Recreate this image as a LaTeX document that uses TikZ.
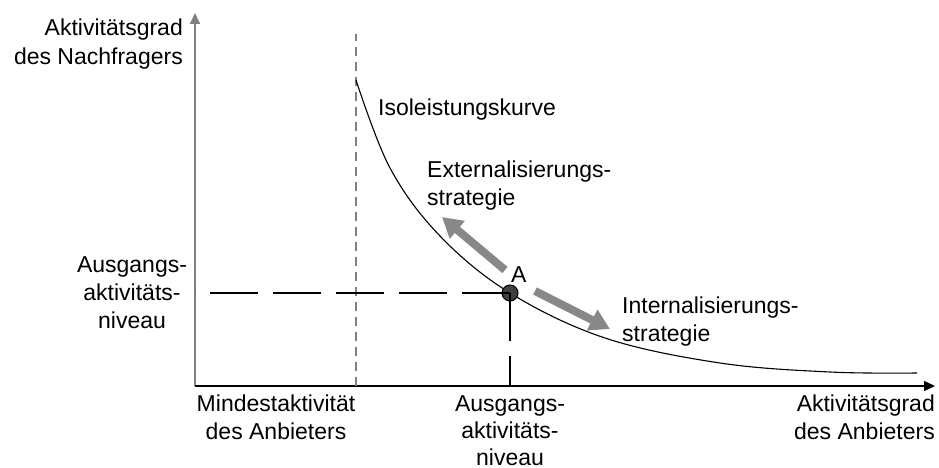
\documentclass[tikz,border=0pt]{standalone}
\usepackage{fontspec}
\setmainfont{Liberation Sans}
\usetikzlibrary{arrows.meta}
\definecolor{axisgray}{RGB}{128,128,128}
\definecolor{stratgray}{RGB}{136,136,136}
\definecolor{pointfill}{RGB}{64,64,64}
\begin{document}
\begin{tikzpicture}[x=1pt,y=-1pt,
  lbl/.style={font=\fontsize{23}{28}\selectfont, inner sep=0pt, anchor=base},
  yaxis/.style={line width=1.8pt, draw=axisgray, -{Triangle[length=11pt,width=10pt]}},
  xaxis/.style={line width=1.3pt, draw=black, -{Triangle[length=11pt,width=10pt]}},
  minline/.style={line width=1.6pt, draw=axisgray, dash pattern=on 9pt off 6pt},
  refline/.style={line width=1.1pt, draw=black, dash pattern=on 48pt off 15pt},
  isocurve/.style={line width=1.1pt, draw=black},
  strat/.style={line width=8pt, draw=stratgray, -{Triangle[length=20pt,width=22pt]}},
  point/.style={circle, draw=black, line width=1pt, fill=pointfill, minimum size=16pt, inner sep=0pt},
]
\useasboundingbox (0,0) rectangle (939,468);

% axes
\coordinate (O) at (195,386);
\coordinate (Ytip) at (195,13);
\coordinate (Xtip) at (935,386);
\draw[yaxis] (O) -- (Ytip);
\draw[xaxis] (O) -- (Xtip);

% minimum activity of the provider
\coordinate (Mtop) at (356,34);
\coordinate (Mbot) at (356,386);
\draw[minline] (Mbot) -- (Mtop);

% iso-performance curve
\draw[isocurve] plot[smooth, tension=0.6] coordinates {
  (356,80) (390,168) (440,236) (510,293) (605,338) (720,363) (830,372) (917,373)};

% starting point A and its reference lines
\node[point] (A) at (510,293) {};
\draw[refline] (A.center) -- (A.center -| O);
\draw[refline] (A.center) -- (A.center |- O);
\node[lbl, anchor=base west] (Alab) at (511,282) {A};

% strategy arrows
\coordinate (Es) at (505,270);
\coordinate (Ee) at (442,217);
\coordinate (Is) at (535,291);
\coordinate (Ie) at (610,329);
\draw[strat] (Es) -- (Ee);
\draw[strat] (Is) -- (Ie);

% labels (multi-line nodes are placed by the baseline of their last line)
\node[lbl, anchor=base east, align=right, font=\fontsize{23}{29}\selectfont] (ylab) at (183,65) {Aktivitätsgrad\\des Nachfragers};
\node[lbl, align=center] (y0lab) at (132,328) {Ausgangs-\\aktivitäts-\\niveau};
\node[lbl, align=center] (minlab) at (276,439) {Mindestaktivität\\des Anbieters};
\node[lbl, align=center, font=\fontsize{23}{27}\selectfont] (x0lab) at (510,465) {Ausgangs-\\aktivitäts-\\niveau};
\node[lbl, anchor=base east, align=right] (xlab) at (935,439) {Aktivitätsgrad\\des Anbieters};
\node[lbl, anchor=base west] (isolab) at (378,116) {Isoleistungskurve};
\node[lbl, anchor=base west, align=left] (extlab) at (427,205) {Externalisierungs-\\strategie};
\node[lbl, anchor=base west, align=left] (intlab) at (622,341) {Internalisierungs-\\strategie};
\end{tikzpicture}
\end{document}
